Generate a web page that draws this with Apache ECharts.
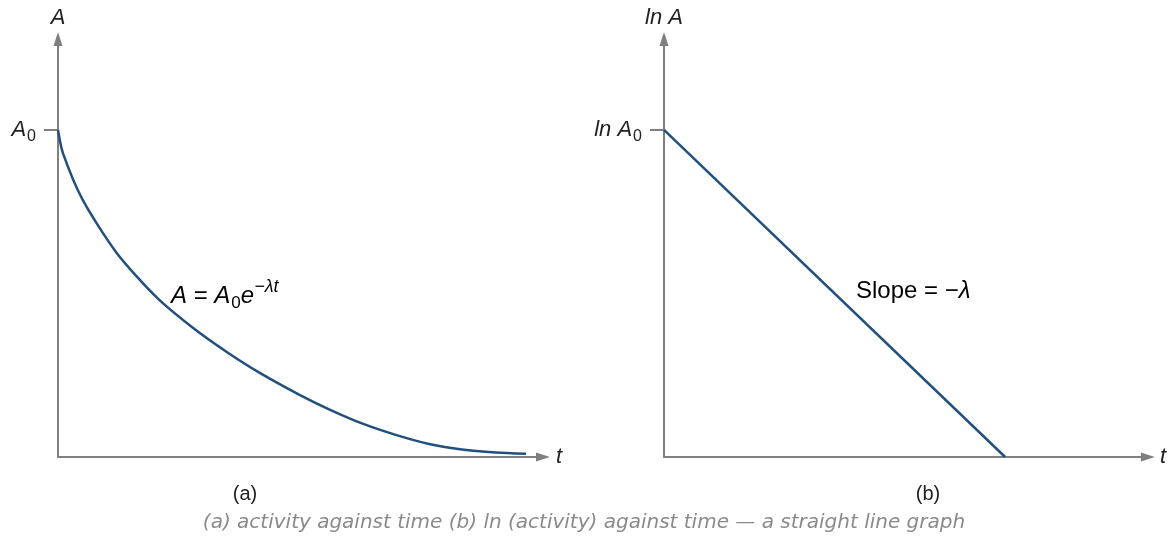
<!DOCTYPE html>
<html>
<head>
<meta charset="utf-8">
<script src="https://cdn.jsdelivr.net/npm/echarts@6/dist/echarts.min.js"></script>
<style>
  html, body { margin: 0; padding: 0; background: #ffffff; }
  #chart { width: 1169px; height: 537px; }
</style>
</head>
<body>
<div id="chart"></div>
<script>
// Panel (a): activity A against time t (A in units of A0)
const decayTime = [0, 0.10, 0.51, 1.21, 2.04, 2.78, 3.48, 4.16, 4.98, 5.60, 6.28, 6.98, 7.65, 8.33, 9.03, 9.65];
const decayActivity = [1.0, 0.930, 0.786, 0.624, 0.487, 0.395, 0.321, 0.257, 0.190, 0.145, 0.102, 0.067, 0.040, 0.023, 0.014, 0.010];

// Panel (b): ln A against time, a straight line of slope -lambda
const logTime = [0, 7.05];
const logActivity = [1, 0];

// Tick marks on the vertical axes
const yTickValues = [1];
const panelLabels = ['(a)', '(b)'];
const captionText = '(a) activity against time (b) ln (activity) against time \u2014 a straight line graph';

const axisGray = '#7f7f7f';
const curveBlue = '#21507f';
const textDark = '#222222';
const labelFont = '"Liberation Sans", Arial, sans-serif';

function toPairs(xs, ys) { return xs.map((x, i) => [x, ys[i]]); }

// Rich text styles: axis labels
const richAxis = {
  i: { fontStyle: 'italic', fontSize: 22, fontFamily: labelFont, color: textDark },
  sub: { fontSize: 16, fontFamily: labelFont, color: textDark, padding: [14, 0, 0, 1] }
};
// Rich text styles: annotations inside the plots
const richNote = {
  i: { fontStyle: 'italic', fontSize: 24, fontFamily: labelFont, color: textDark },
  n: { fontSize: 24, fontFamily: labelFont, color: textDark },
  sub: { fontSize: 17, fontFamily: labelFont, color: textDark, padding: [14, 0, 0, 1] },
  sup: { fontStyle: 'italic', fontSize: 18, fontFamily: labelFont, color: textDark, padding: [0, 0, 18, 0] }
};

function xAxisFor(gridIndex, nameGap) {
  return {
    type: 'value', gridIndex: gridIndex, min: 0, max: 10,
    name: 't', nameLocation: 'end', nameGap: nameGap,
    nameTextStyle: { fontStyle: 'italic', fontSize: 22, fontFamily: labelFont, color: textDark, verticalAlign: 'middle' },
    axisLine: { show: true, onZero: false, symbol: ['none', 'triangle'], symbolSize: [9, 14],
      lineStyle: { color: axisGray, width: 2 } },
    axisTick: { show: false }, axisLabel: { show: false }, splitLine: { show: false }
  };
}

function yAxisFor(gridIndex, nameRich, labelRich) {
  return {
    type: 'value', gridIndex: gridIndex, min: 0, max: 1.278,
    name: nameRich, nameLocation: 'end', nameGap: 10,
    nameTextStyle: { rich: richAxis, align: 'center' },
    axisLine: { show: true, onZero: false, symbol: ['none', 'triangle'], symbolSize: [9, 14],
      lineStyle: { color: axisGray, width: 2 } },
    axisTick: { show: true, customValues: yTickValues, length: 14, lineStyle: { color: axisGray, width: 2 } },
    axisLabel: { show: true, customValues: yTickValues, margin: 22, formatter: () => labelRich, rich: richAxis },
    splitLine: { show: false }
  };
}

const chart = echarts.init(document.getElementById('chart'), null, { renderer: 'canvas' });

chart.setOption({
  backgroundColor: '#ffffff',
  animation: false,
  grid: [
    { left: 58, top: 39, width: 485, bottom: 80 },
    { left: 664, top: 39, width: 489, bottom: 80 }
  ],
  xAxis: [xAxisFor(0, 13), xAxisFor(1, 12)],
  yAxis: [
    yAxisFor(0, '{i|A}', '{i|A}{sub|0}'),
    yAxisFor(1, '{i|ln A}', '{i|ln A}{sub|0}')
  ],
  series: [
    {
      type: 'line', xAxisIndex: 0, yAxisIndex: 0,
      data: toPairs(decayTime, decayActivity),
      smooth: 0.25, showSymbol: false,
      lineStyle: { color: curveBlue, width: 2.5 }
    },
    {
      type: 'line', xAxisIndex: 1, yAxisIndex: 1,
      data: toPairs(logTime, logActivity),
      showSymbol: false,
      lineStyle: { color: curveBlue, width: 2.5 }
    }
  ],
  graphic: [
    { type: 'text', left: 171, top: 278, z: 10,
      style: { text: '{i|A}{n| = }{i|A}{sub|0}{i|e}{sup|\u2212\u03bbt}', rich: richNote } },
    { type: 'text', left: 856, top: 279, z: 10,
      style: { text: '{n|Slope = \u2212}{i|\u03bb}', rich: richNote } },
    { type: 'text', x: 245, y: 494, z: 10,
      style: { text: panelLabels[0], fontSize: 20, fontFamily: labelFont, fill: textDark, align: 'center', verticalAlign: 'middle' } },
    { type: 'text', x: 928, y: 494, z: 10,
      style: { text: panelLabels[1], fontSize: 20, fontFamily: labelFont, fill: textDark, align: 'center', verticalAlign: 'middle' } },
    { type: 'text', x: 584, y: 523, z: 10,
      style: { text: captionText, fontSize: 20, fontStyle: 'italic', fontWeight: 300, fontFamily: '"DejaVu Sans", sans-serif',
        fill: '#8a8a8a', align: 'center', verticalAlign: 'middle' } }
  ]
});
</script>
</body>
</html>
